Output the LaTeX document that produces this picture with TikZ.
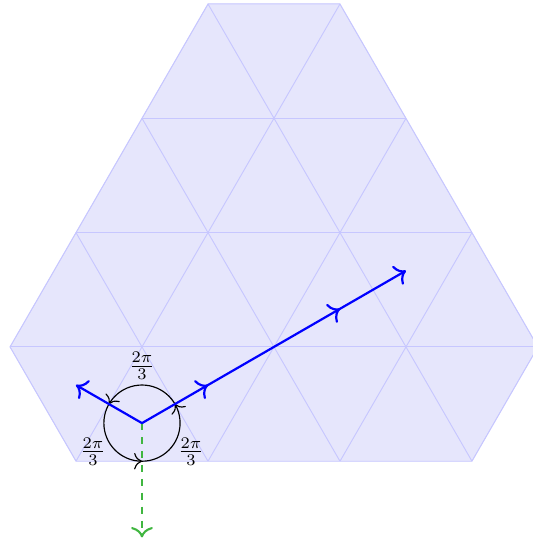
\documentclass[tikz,border=0pt]{standalone}
\usetikzlibrary{calc,decorations.markings,arrows.meta}
\definecolor{latfill}{rgb}{0.902,0.902,0.99}
\definecolor{latline}{rgb}{0.78,0.78,1}
\definecolor{dashgreen}{RGB}{64,182,64}
\begin{document}
\begin{tikzpicture}[
  latt/.style={draw=latline, line width=0.4pt},
  bluepath/.style={draw=blue, line width=0.95pt, -{To[scale=1.2]}},
  bluemarked/.style={bluepath, postaction={decorate},
    decoration={markings,
      mark=at position 0.25 with {\arrow{To[scale=1.2]}},
      mark=at position 0.75 with {\arrow{To[scale=1.2]}}}},
  circmarked/.style={draw=black, line width=0.5pt, postaction={decorate},
    decoration={markings,
      mark=at position 0.0833 with {\arrow{To[scale=1.25]}},
      mark=at position 0.4167 with {\arrow{To[scale=1.25]}},
      mark=at position 0.75 with {\arrow{To[scale=1.25]}}}},
  greenpath/.style={draw=dashgreen, line width=0.9pt, dash pattern=on 3pt off 3pt, -{To[scale=1.25]}},
  anglelabel/.style={inner sep=1pt}
]
\pgfmathsetmacro\h{sqrt(3)}
\useasboundingbox (-0.151,-1.254) rectangle (7.924,6.988);
% hexagon corners
\coordinate (L) at (0,\h);
\coordinate (BL) at (1,0);
\coordinate (BR) at (7,0);
\coordinate (R) at (8,\h);
\coordinate (TR) at (5,{4*\h});
\coordinate (TL) at (3,{4*\h});
% lattice
\fill[latfill] (L)--(BL)--(BR)--(R)--(TR)--(TL)--cycle;
\begin{scope}
  \clip (L)--(BL)--(BR)--(R)--(TR)--(TL)--cycle;
  \foreach \j in {-3,...,5} {
    \draw[latt] ({1+2*\j},0) -- ++(4,{4*\h});
    \draw[latt] ({1+2*\j},0) -- ++(-4,{4*\h});
  }
  \foreach \k in {0,...,4} {
    \draw[latt] (0,{\k*\h}) -- (8,{\k*\h});
  }
\end{scope}
\draw[latt] (L)--(BL)--(BR)--(R)--(TR)--(TL)--cycle;
% points
\coordinate (C) at (2,{\h/3});
\coordinate (P) at ($(C)+(150:{2*\h/3})$);
\coordinate (Q) at ($(C)+(30:{8*\h/3})$);
\coordinate (G) at ($(C)+(0,-\h)$);
% paths
\draw[greenpath] (C) -- (G);
\draw[circmarked] (C) circle ({\h/3});
\draw[bluepath] (C) -- (P);
\draw[bluemarked] (C) -- (Q);
% labels
\node[anglelabel] (la) at ($(C)+(90:0.864)$) {$\frac{2\pi}{3}$};
\node[anglelabel] (lb) at ($(C)+(210:0.856)$) {$\frac{2\pi}{3}$};
\node[anglelabel] (lc) at ($(C)+(330:0.856)$) {$\frac{2\pi}{3}$};
\end{tikzpicture}
\end{document}
